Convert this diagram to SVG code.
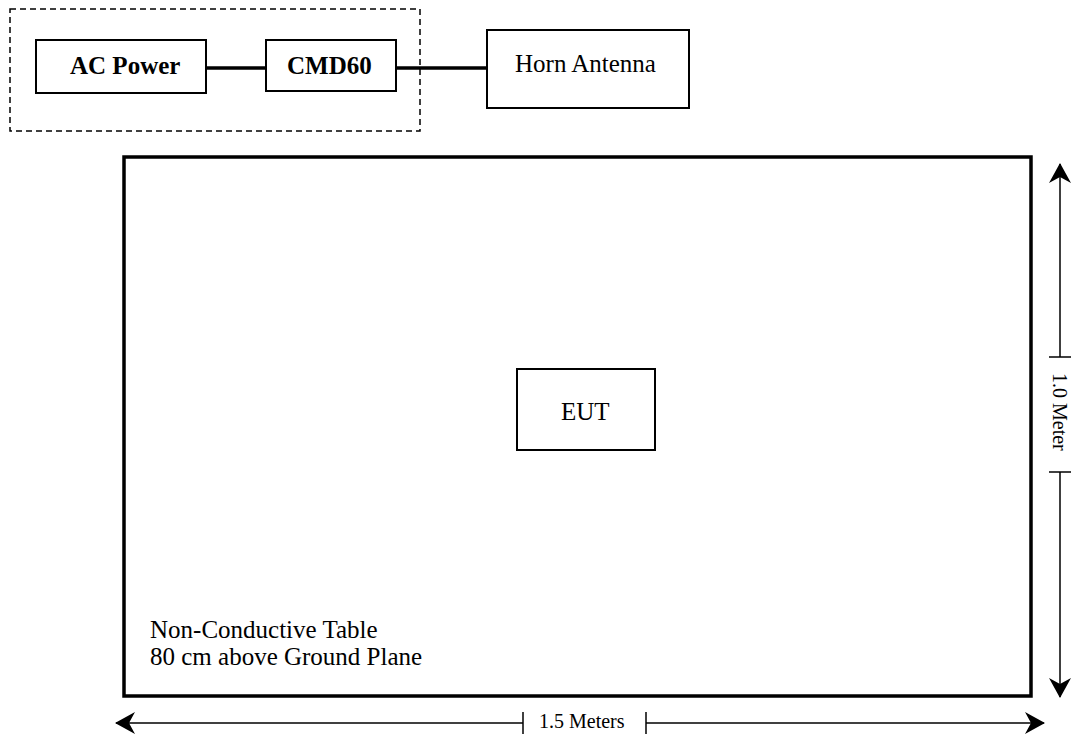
<svg xmlns="http://www.w3.org/2000/svg" width="1072" height="734" viewBox="0 0 1072 734">
<style>
.box{fill:#fff;stroke:#000;stroke-width:2}
.t{font-family:"Liberation Serif","Times New Roman",serif;font-size:25px;fill:#000}
.b{font-weight:bold}
.dim{font-family:"Liberation Serif","Times New Roman",serif;font-size:20px;fill:#000}
.wire{stroke:#000;stroke-width:3.5;fill:none}
.dl{stroke:#000;stroke-width:1.5;fill:none}
</style>
<defs>
<marker id="ah" markerUnits="userSpaceOnUse" markerWidth="20" markerHeight="22" viewBox="0 0 20 22" refX="19" refY="11" orient="auto">
<path d="M0,0 L20,11 L0,22 L6,11 Z" fill="#000"/>
</marker>
</defs>
<rect x="0" y="0" width="1072" height="734" fill="#fff"/>
<g id="group-dashed">
<rect x="10" y="9" width="410" height="122" fill="none" stroke="#000" stroke-width="1.5" stroke-dasharray="6,4"/>
</g>
<g id="table">
<rect x="124" y="157" width="907" height="539" fill="none" stroke="#000" stroke-width="3.5"/>
<text class="t" x="150" y="638">Non-Conductive Table</text>
<text class="t" x="150" y="665">80 cm above Ground Plane</text>
</g>
<g id="connectors">
<line class="wire" x1="206" y1="68" x2="266" y2="68"/>
<line class="wire" x1="396" y1="68" x2="487" y2="68"/>
</g>
<g id="ac-power">
<rect class="box" x="36" y="40" width="170" height="53"/>
<text class="t b" x="70" y="74">AC Power</text>
</g>
<g id="cmd60">
<rect class="box" x="266" y="40" width="130" height="51"/>
<text class="t b" x="287" y="74">CMD60</text>
</g>
<g id="horn-antenna">
<rect class="box" x="487" y="30" width="202" height="78"/>
<text class="t" x="515" y="72">Horn Antenna</text>
</g>
<g id="eut">
<rect class="box" x="517" y="369" width="138" height="81"/>
<text class="t" x="561" y="420">EUT</text>
</g>
<g id="dimension-vertical">
<line class="dl" x1="1060" y1="357" x2="1060" y2="164" marker-end="url(#ah)"/>
<line class="dl" x1="1060" y1="472" x2="1060" y2="697" marker-end="url(#ah)"/>
<line class="dl" x1="1049" y1="357" x2="1071" y2="357"/>
<line class="dl" x1="1049" y1="472" x2="1071" y2="472"/>
<text class="dim" transform="translate(1053,373) rotate(90)">1.0 Meter</text>
</g>
<g id="dimension-horizontal">
<line class="dl" x1="523" y1="723" x2="116" y2="723" marker-end="url(#ah)"/>
<line class="dl" x1="646" y1="723" x2="1044" y2="723" marker-end="url(#ah)"/>
<line class="dl" x1="523" y1="712" x2="523" y2="734"/>
<line class="dl" x1="646" y1="712" x2="646" y2="734"/>
<text class="dim" x="539" y="728">1.5 Meters</text>
</g>
</svg>
